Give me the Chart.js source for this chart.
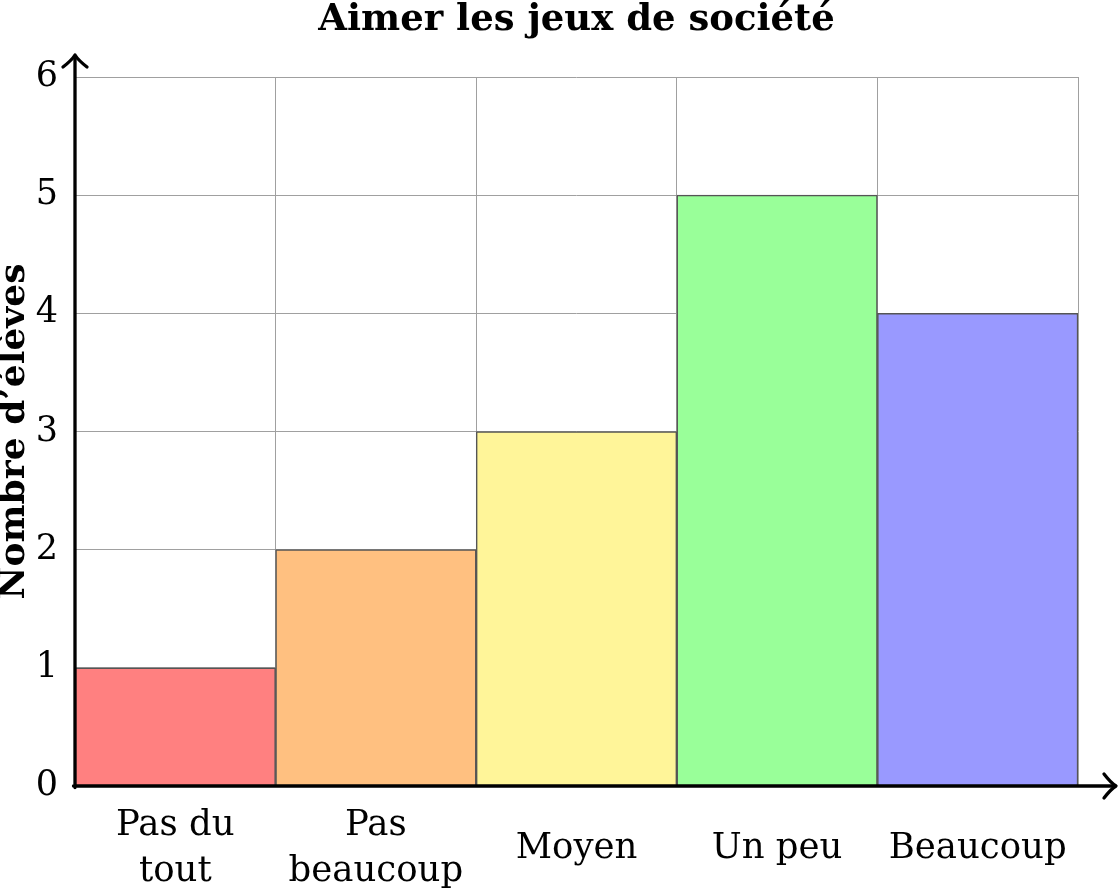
<!DOCTYPE html>
<html>
<head>
<meta charset="utf-8">
<script src="https://cdn.jsdelivr.net/npm/chart.js@4.4.0/dist/chart.umd.min.js"></script>
<style>
  html, body { margin: 0; padding: 0; background: #fff; }
  #wrap { width: 1119px; height: 888px; }
</style>
</head>
<body>
<div id="wrap"><canvas id="chart"></canvas></div>
<script>
// data
const categories = [['Pas du', 'tout'], ['Pas', 'beaucoup'], 'Moyen', 'Un peu', 'Beaucoup'];
const counts = [1, 2, 3, 5, 4];
const barColors = ['#ff8080', '#ffc080', '#fff599', '#99ff99', '#9999ff'];
const yTicks = [0, 1, 2, 3, 4, 5, 6];
const chartTitle = 'Aimer les jeux de société';

const serif = 'DejaVu Serif';

// title centred over the plot area (the built-in one centres on the whole canvas)
const plotTitle = {
    id: 'plotTitle',
    afterDraw(chart) {
        const { ctx, chartArea: { left, right } } = chart;
        ctx.save();
        ctx.font = `bold 37px "${serif}"`;
        ctx.fillStyle = '#000';
        ctx.textAlign = 'center';
        ctx.textBaseline = 'alphabetic';
        ctx.fillText(chartTitle, (left + right) / 2, 30);
        ctx.restore();
    }
};

// draw the black axes with tikz-like arrow tips
const axesArrows = {
    id: 'axesArrows',
    afterDraw(chart) {
        const { ctx, chartArea: { left, right, top, bottom } } = chart;
        ctx.save();
        ctx.strokeStyle = '#000';
        ctx.lineWidth = 3.3;
        ctx.lineCap = 'round';
        ctx.lineJoin = 'round';

        const xEnd = right + 37;
        const yEnd = top - 21;

        ctx.beginPath();
        ctx.moveTo(left - 1.5, bottom);
        ctx.lineTo(xEnd, bottom);
        ctx.moveTo(left, bottom + 1.5);
        ctx.lineTo(left, yEnd);
        ctx.stroke();

        // x arrow head
        ctx.beginPath();
        ctx.moveTo(xEnd - 11, bottom - 12);
        ctx.quadraticCurveTo(xEnd - 4, bottom - 3, xEnd + 1, bottom);
        ctx.quadraticCurveTo(xEnd - 4, bottom + 3, xEnd - 11, bottom + 12);
        ctx.stroke();

        // y arrow head
        ctx.beginPath();
        ctx.moveTo(left - 12, yEnd + 11);
        ctx.quadraticCurveTo(left - 3, yEnd + 4, left, yEnd - 1);
        ctx.quadraticCurveTo(left + 3, yEnd + 4, left + 12, yEnd + 11);
        ctx.stroke();
        ctx.restore();
    }
};

new Chart(document.getElementById('chart'), {
    type: 'bar',
    data: {
        labels: categories,
        datasets: [{
            label: "Nombre d'élèves",
            data: counts,
            backgroundColor: barColors,
            borderColor: '#555',
            borderWidth: 1.5,
            categoryPercentage: 1,
            barPercentage: 1
        }]
    },
    options: {
        responsive: true,
        maintainAspectRatio: false,
        animation: false,
        layout: { padding: { left: 0, right: 41, top: 77, bottom: 0 } },
        plugins: {
            legend: { display: false },
            tooltip: { enabled: false },
            title: { display: false }
        },
        scales: {
            x: {
                grid: { color: '#a0a0a0', lineWidth: 1, offset: true, drawTicks: false },
                border: { display: false },
                ticks: {
                    color: '#000',
                    font: { family: serif, size: 35.5, lineHeight: 1.3 },
                    padding: 40,
                    maxRotation: 0,
                    autoSkip: false,
                    crossAlign: 'center'
                },
                afterFit(scale) { scale.height = 102; }
            },
            y: {
                min: 0,
                max: 6,
                afterBuildTicks(scale) { scale.ticks = yTicks.map(v => ({ value: v })); },
                grid: { color: '#a0a0a0', lineWidth: 1, drawTicks: false },
                border: { display: false },
                ticks: {
                    color: '#000',
                    font: { family: serif, size: 35 },
                    padding: 17
                },
                title: {
                    display: true,
                    text: 'Nombre d’élèves',
                    color: '#000',
                    font: { family: serif, size: 36, weight: 'bold', lineHeight: 0.83 },
                    padding: 0
                },
                afterFit(scale) { scale.width = 75; }
            }
        }
    },
    plugins: [plotTitle, axesArrows]
});
</script>
</body>
</html>
